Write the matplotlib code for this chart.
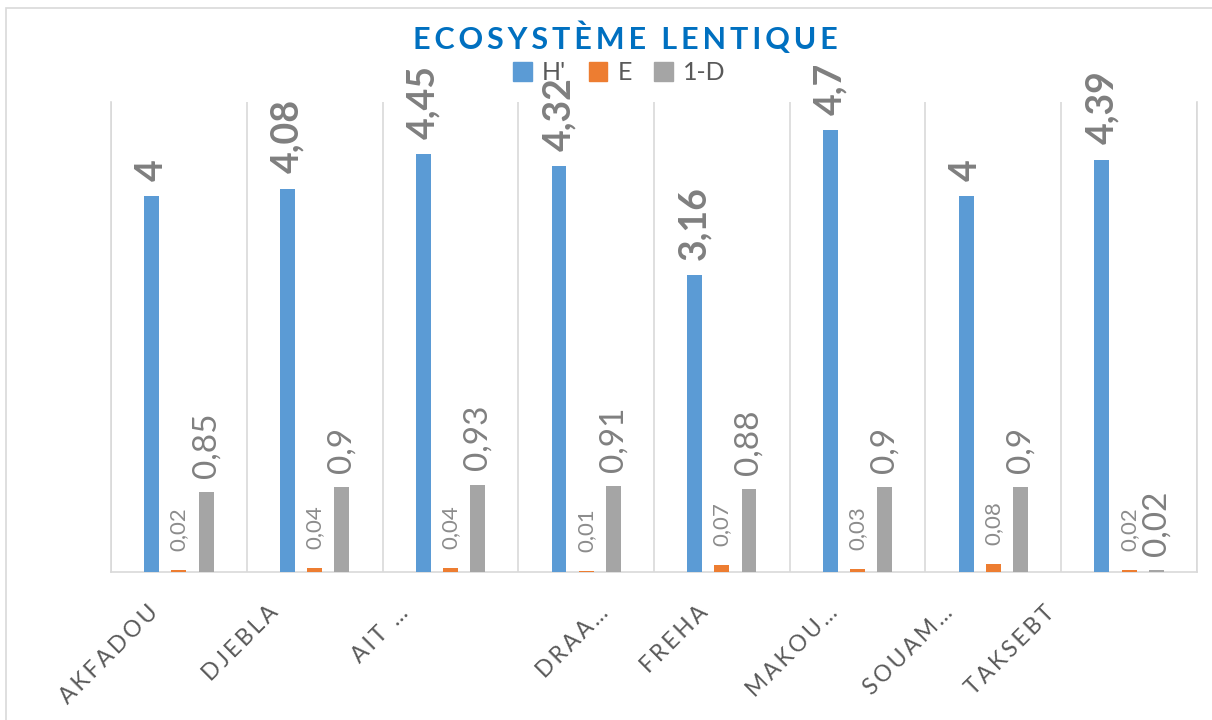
import matplotlib
matplotlib.use("Agg")
import matplotlib.pyplot as plt
import matplotlib.transforms as mtransforms
from matplotlib.patches import Rectangle, Patch
import numpy as np

plt.rcParams['font.family'] = ['Lato', 'DejaVu Sans']

sites = ["AKFADOU", "DJEBLA", "AIT …", "DRAA…", "FREHA", "MAKOU…", "SOUAM…", "TAKSEBT"]
h_prime = [4, 4.08, 4.45, 4.32, 3.16, 4.7, 4, 4.39]
equit = [0.02, 0.04, 0.04, 0.01, 0.07, 0.03, 0.08, 0.02]
simpson = [0.85, 0.9, 0.93, 0.91, 0.88, 0.9, 0.9, 0.02]

c_h = "#5B9BD5"
c_e = "#ED7D31"
c_d = "#A5A5A5"

# excel places the rotated category labels a bit unevenly (pixels)
label_nudge = [0, -16, -21, 43, 7, 1, -20, -54]


def fr(v):
    # excel style decimal comma
    return ("%g" % v).replace(".", ",")


def spaced(s):
    return "\u2009".join(s)


fig = plt.figure(figsize=(12.12, 7.2), dpi=100)
ax = fig.add_axes([0.0916, 0.2056, 0.8960, 0.6524])

x = np.arange(len(sites))
w = 0.11
step = 0.2

b1 = ax.bar(x - step, h_prime, w, color=c_h, zorder=3)
b2 = ax.bar(x, equit, w, color=c_e, zorder=3)
b3 = ax.bar(x + step, simpson, w, color=c_d, zorder=3)

for bar, v in zip(b1, h_prime):
    ax.annotate(fr(v), (bar.get_x() + bar.get_width() / 2, v), xytext=(0, 11),
                textcoords="offset points", rotation=90, ha="center", va="bottom",
                fontsize=27, fontweight="bold", color="#7F7F7F")
for bar, v in zip(b2, equit):
    ax.annotate(fr(v), (bar.get_x() + bar.get_width() / 2, v), xytext=(0, 14),
                textcoords="offset points", rotation=90, ha="center", va="bottom",
                fontsize=16, color="#8C8C8C")
for bar, v in zip(b3, simpson):
    ax.annotate(fr(v), (bar.get_x() + bar.get_width() / 2, v), xytext=(0, 10.5),
                textcoords="offset points", rotation=90, ha="center", va="bottom",
                fontsize=24, color="#808080")

ax.set_xlim(-0.5, len(sites) - 0.5)
ax.set_ylim(0, 5)
ax.set_yticks([])
ax.set_xticks(x)
ax.set_xticklabels([spaced(s) for s in sites], rotation=45, ha="right", va="center",
                   rotation_mode="anchor", fontsize=16.5, color="#595959")
ax.tick_params(axis="x", length=0, pad=27)
for lab, dx in zip(ax.get_xticklabels(), label_nudge):
    offset = mtransforms.ScaledTranslation((dx - 24) / 100, 0, fig.dpi_scale_trans)
    lab.set_transform(lab.get_transform() + offset)

ax.set_xticks(np.arange(-0.5, len(sites)), minor=True)
ax.tick_params(axis="x", which="minor", length=0)
ax.grid(True, which="minor", axis="x", color="#D9D9D9", linewidth=1.2, zorder=0)
ax.spines["top"].set_visible(False)
for s in ["left", "right", "bottom"]:
    ax.spines[s].set_color("#D9D9D9")
    ax.spines[s].set_linewidth(1.2)

fig.text(0.516, 0.948, spaced("ECOSYSTÈME LENTIQUE"), ha="center", va="center",
         fontsize=22, fontweight="bold", color="#0070C0")

handles = [Patch(color=c_h, label="H'"), Patch(color=c_e, label="E"), Patch(color=c_d, label="1-D")]
fig.legend(handles=handles, loc="center", bbox_to_anchor=(0.511, 0.899), ncol=3,
           frameon=False, fontsize=18, labelcolor="#595959", handlelength=0.75,
           handleheight=0.75, handletextpad=0.4, columnspacing=0.9)

fig.patches.append(Rectangle((0.005, -0.05), 1.2, 1.039, transform=fig.transFigure,
                             fill=False, edgecolor="#D9D9D9", linewidth=1.2))

fig.savefig("out.png", dpi=100)
